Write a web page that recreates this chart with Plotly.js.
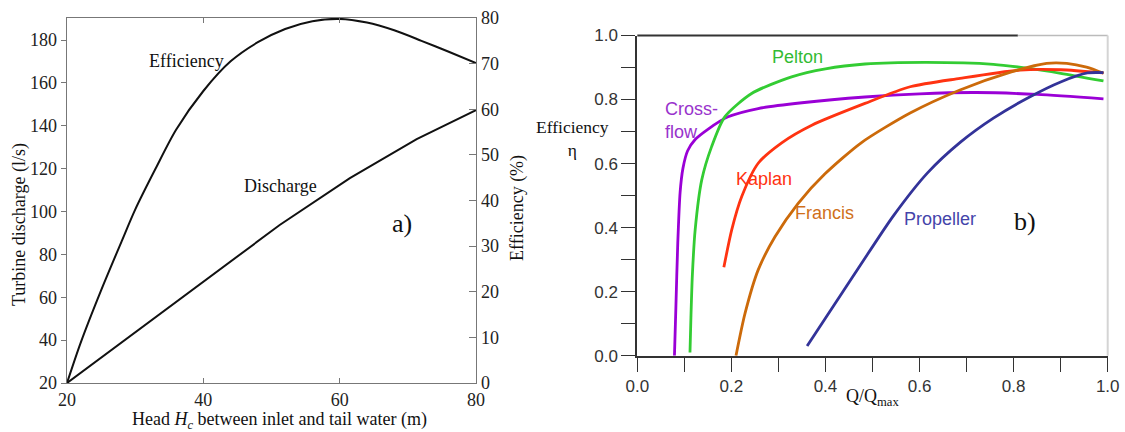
<!DOCTYPE html>
<html>
<head>
<meta charset="utf-8">
<script src="https://cdn.plot.ly/plotly-3.0.1.min.js"></script>
<style>html,body{margin:0;padding:0;background:#fff;} #chart{width:1125px;height:432px;}</style>
</head>
<body>
<div id="chart"></div>
<script>
// ---------- Panel a) : turbine discharge & efficiency vs head ----------
const headEff = [20, 22, 25, 28, 30, 33, 36, 40, 44, 48, 52, 56, 60, 64, 68, 72, 76, 80];
const effPct  = [0, 8.8, 20.3, 31, 38, 47, 55.5, 64, 70.5, 74.7, 77.6, 79.3, 79.8, 79.0, 77.3, 75.0, 72.6, 70.1];
const headQ       = [20, 40, 51.2, 61.5, 71.3, 80];
const dischargeLs = [20, 67.1, 93.7, 115.6, 133.8, 147.3];
const headTicks      = [20, 40, 60, 80];
const dischargeTicks = [20, 40, 60, 80, 100, 120, 140, 160, 180];
const effTicks       = [0, 10, 20, 30, 40, 50, 60, 70, 80];

// ---------- Panel b) : efficiency vs relative flow ----------
const crossQ    = [0.079, 0.082, 0.086, 0.091, 0.097, 0.107, 0.123, 0.150, 0.193, 0.257, 0.35, 0.484, 0.60, 0.72, 0.85, 0.991];
const crossEta  = [0.0, 0.15, 0.35, 0.51, 0.585, 0.64, 0.675, 0.707, 0.746, 0.772, 0.79, 0.808, 0.818, 0.822, 0.816, 0.802];
const peltonQ   = [0.112, 0.114, 0.117, 0.123, 0.137, 0.158, 0.186, 0.243, 0.328, 0.40, 0.484, 0.615, 0.757, 0.828, 0.9, 0.991];
const peltonEta = [0.01, 0.12, 0.25, 0.393, 0.549, 0.653, 0.746, 0.819, 0.871, 0.896, 0.911, 0.916, 0.910, 0.898, 0.882, 0.858];
const kaplanQ   = [0.184, 0.2007, 0.222, 0.257, 0.307, 0.371, 0.484, 0.580, 0.686, 0.814, 0.9, 0.991];
const kaplanEta = [0.276, 0.393, 0.497, 0.601, 0.665, 0.720, 0.788, 0.840, 0.866, 0.892, 0.893, 0.883];
const francisQ   = [0.2098, 0.229, 0.257, 0.293, 0.342, 0.399, 0.476, 0.580, 0.686, 0.792, 0.870, 0.913, 0.955, 0.991];
const francisEta = [0.0, 0.132, 0.268, 0.372, 0.476, 0.568, 0.665, 0.758, 0.830, 0.885, 0.913, 0.913, 0.901, 0.882];
const propQ   = [0.361, 0.473, 0.544, 0.617, 0.687, 0.757, 0.830, 0.900, 0.957, 0.991];
const propEta = [0.030, 0.280, 0.436, 0.571, 0.667, 0.742, 0.805, 0.855, 0.883, 0.884];
const qTicks     = [0, 0.1, 0.2, 0.3, 0.4, 0.5, 0.6, 0.7, 0.8, 0.9, 1.0];
const qTickText  = ['0.0', '', '0.2', '', '0.4', '', '0.6', '', '0.8', '', '1.0'];
const etaTicks   = [0, 0.1, 0.2, 0.3, 0.4, 0.5, 0.6, 0.7, 0.8, 0.9, 1.0];
const etaTickText= ['0.0', '', '0.2', '', '0.4', '', '0.6', '', '0.8', '', '1.0'];

const SERIF = '"Liberation Serif", "Times New Roman", serif';
const SANS  = '"Liberation Sans", Arial, sans-serif';

const cols = {cross:'#9a00d6', pelton:'#33cc33', kaplan:'#ff3311', francis:'#cc6a0a', prop:'#333399'};

const traces = [
  {x: headEff, y: effPct, xaxis:'x', yaxis:'y2', mode:'lines', line:{color:'#111', width:2, shape:'spline', smoothing:0.8}, hoverinfo:'skip'},
  {x: headQ, y: dischargeLs, xaxis:'x', yaxis:'y', mode:'lines', line:{color:'#111', width:2}, hoverinfo:'skip'},
  {x: crossQ, y: crossEta, xaxis:'x2', yaxis:'y3', mode:'lines', line:{color:cols.cross, width:2.8, shape:'spline', smoothing:0.7}},
  {x: peltonQ, y: peltonEta, xaxis:'x2', yaxis:'y3', mode:'lines', line:{color:cols.pelton, width:2.8, shape:'spline', smoothing:0.7}},
  {x: kaplanQ, y: kaplanEta, xaxis:'x2', yaxis:'y3', mode:'lines', line:{color:cols.kaplan, width:2.8, shape:'spline', smoothing:0.7}},
  {x: francisQ, y: francisEta, xaxis:'x2', yaxis:'y3', mode:'lines', line:{color:cols.francis, width:2.8, shape:'spline', smoothing:0.7}},
  {x: propQ, y: propEta, xaxis:'x2', yaxis:'y3', mode:'lines', line:{color:cols.prop, width:2.8, shape:'spline', smoothing:0.7}}
];

const tfSerif = {family: SERIF, size: 18, color: '#222'};
const tfSans  = {family: SANS, size: 17, color: '#333'};

// right-panel domain in paper units (for frame shapes)
const bX = [0.56649, 0.98462], bY = [0.17662, 0.91782];
const px = q => bX[0] + q * (bX[1] - bX[0]);

const layout = {
  width: 1125, height: 432,
  margin: {l:0, r:0, t:0, b:0},
  paper_bgcolor: '#fff', plot_bgcolor: 'rgba(0,0,0,0)',
  showlegend: false,
  xaxis: {domain:[0.05956, 0.42311], range:[20, 80], anchor:'y', tickvals: headTicks,
          ticks:'inside', ticklen:5, tickcolor:'#777', showline:true, linecolor:'#777', linewidth:1.5,
          mirror:'ticks', showgrid:false, zeroline:false, tickfont: tfSerif},
  yaxis: {domain:[0.11343, 0.95833], range:[20, 190.3], anchor:'x', tickvals: dischargeTicks,
          ticks:'outside', ticklen:5, tickcolor:'#777', showline:true, linecolor:'#777', linewidth:1.5,
          showgrid:false, zeroline:false, tickfont: tfSerif},
  yaxis2: {overlaying:'y', side:'right', anchor:'x', range:[0, 80], tickvals: effTicks,
          ticks:'inside', ticklen:7, tickcolor:'#777', showline:true, linecolor:'#777', linewidth:1.5,
          showgrid:false, zeroline:false, tickfont: tfSerif},
  xaxis2: {domain:bX, range:[0, 1], anchor:'y3', tickvals: qTicks, ticktext: qTickText,
          ticks:'outside', ticklen:14, tickwidth:1.5, tickcolor:'#333', showline:true, linecolor:'#333', linewidth:2,
          showgrid:false, zeroline:false, tickfont: tfSans},
  yaxis3: {domain:bY, range:[0, 1], anchor:'x2', tickvals: etaTicks, ticktext: etaTickText,
          ticks:'outside', ticklen:14, tickwidth:1.5, tickcolor:'#333', showline:true, linecolor:'#333', linewidth:2,
          showgrid:false, zeroline:false, tickfont: tfSans},
  shapes: [
    {type:'line', xref:'paper', yref:'paper', x0:bX[0], x1:px(0.809), y0:bY[1], y1:bY[1], line:{color:'#333', width:2}},
    {type:'line', xref:'paper', yref:'paper', x0:px(0.809), x1:bX[1], y0:bY[1], y1:bY[1], line:{color:'#bbb', width:1.5}},
    {type:'line', xref:'paper', yref:'paper', x0:bX[1], x1:bX[1], y0:bY[0], y1:bY[1], line:{color:'#d4d4d4', width:2}}
  ],
  annotations: [
    // panel a
    {xref:'x', yref:'y', x:37.56, y:170.2, text:'Efficiency', showarrow:false, font:{family:SERIF, size:18, color:'#111'}},
    {xref:'x', yref:'y', x:51.25, y:111.9, text:'Discharge', showarrow:false, font:{family:SERIF, size:18, color:'#111'}},
    {xref:'x', yref:'y', x:69.1, y:94.5, text:'a)', showarrow:false, font:{family:SERIF, size:26, color:'#111'}},
    {xref:'paper', yref:'paper', xanchor:'center', yanchor:'middle', x:279.5/1125, y:1-420/432,
     text:'Head <i>H<sub>c</sub></i> between inlet and tail water (m)', showarrow:false, font:{family:SERIF, size:18, color:'#111'}},
    {xref:'paper', yref:'paper', xanchor:'center', yanchor:'middle', x:19/1125, y:1-225/432,
     text:'Turbine discharge (l/s)', textangle:-90, showarrow:false, font:{family:SERIF, size:18, color:'#111'}},
    {xref:'paper', yref:'paper', xanchor:'center', yanchor:'middle', x:518/1125, y:1-208/432,
     text:'Efficiency (%)', textangle:-90, showarrow:false, font:{family:SERIF, size:18, color:'#111'}},
    // panel b
    {xref:'x2', yref:'y3', x:0.341, y:0.934, text:'Pelton', showarrow:false, font:{family:SANS, size:18, color:'#33bb33'}},
    {xref:'x2', yref:'y3', x:0.055, y:0.733, xanchor:'left', align:'left', text:'Cross-<br>flow', showarrow:false, font:{family:SANS, size:18, color:'#9933cc'}},
    {xref:'x2', yref:'y3', x:0.270, y:0.552, text:'Kaplan', showarrow:false, font:{family:SANS, size:18, color:'#ff3311'}},
    {xref:'x2', yref:'y3', x:0.399, y:0.447, text:'Francis', showarrow:false, font:{family:SANS, size:18, color:'#d0701a'}},
    {xref:'x2', yref:'y3', x:0.643, y:0.427, text:'Propeller', showarrow:false, font:{family:SANS, size:18, color:'#4444aa'}},
    {xref:'x2', yref:'y3', x:0.824, y:0.418, text:'b)', showarrow:false, font:{family:SERIF, size:26, color:'#111'}},
    {xref:'paper', yref:'paper', xanchor:'center', yanchor:'middle', x:572/1125, y:1-138/432,
     text:'Efficiency<br>η', showarrow:false, font:{family:SERIF, size:17.5, color:'#111'}},
    {xref:'paper', yref:'paper', xanchor:'center', yanchor:'middle', x:872.5/1125, y:1-397/432,
     text:'Q/Q<sub>max</sub>', showarrow:false, font:{family:SERIF, size:18, color:'#111'}}
  ]
};

Plotly.newPlot('chart', traces, layout, {staticPlot:true, displayModeBar:false});
</script>
</body>
</html>
